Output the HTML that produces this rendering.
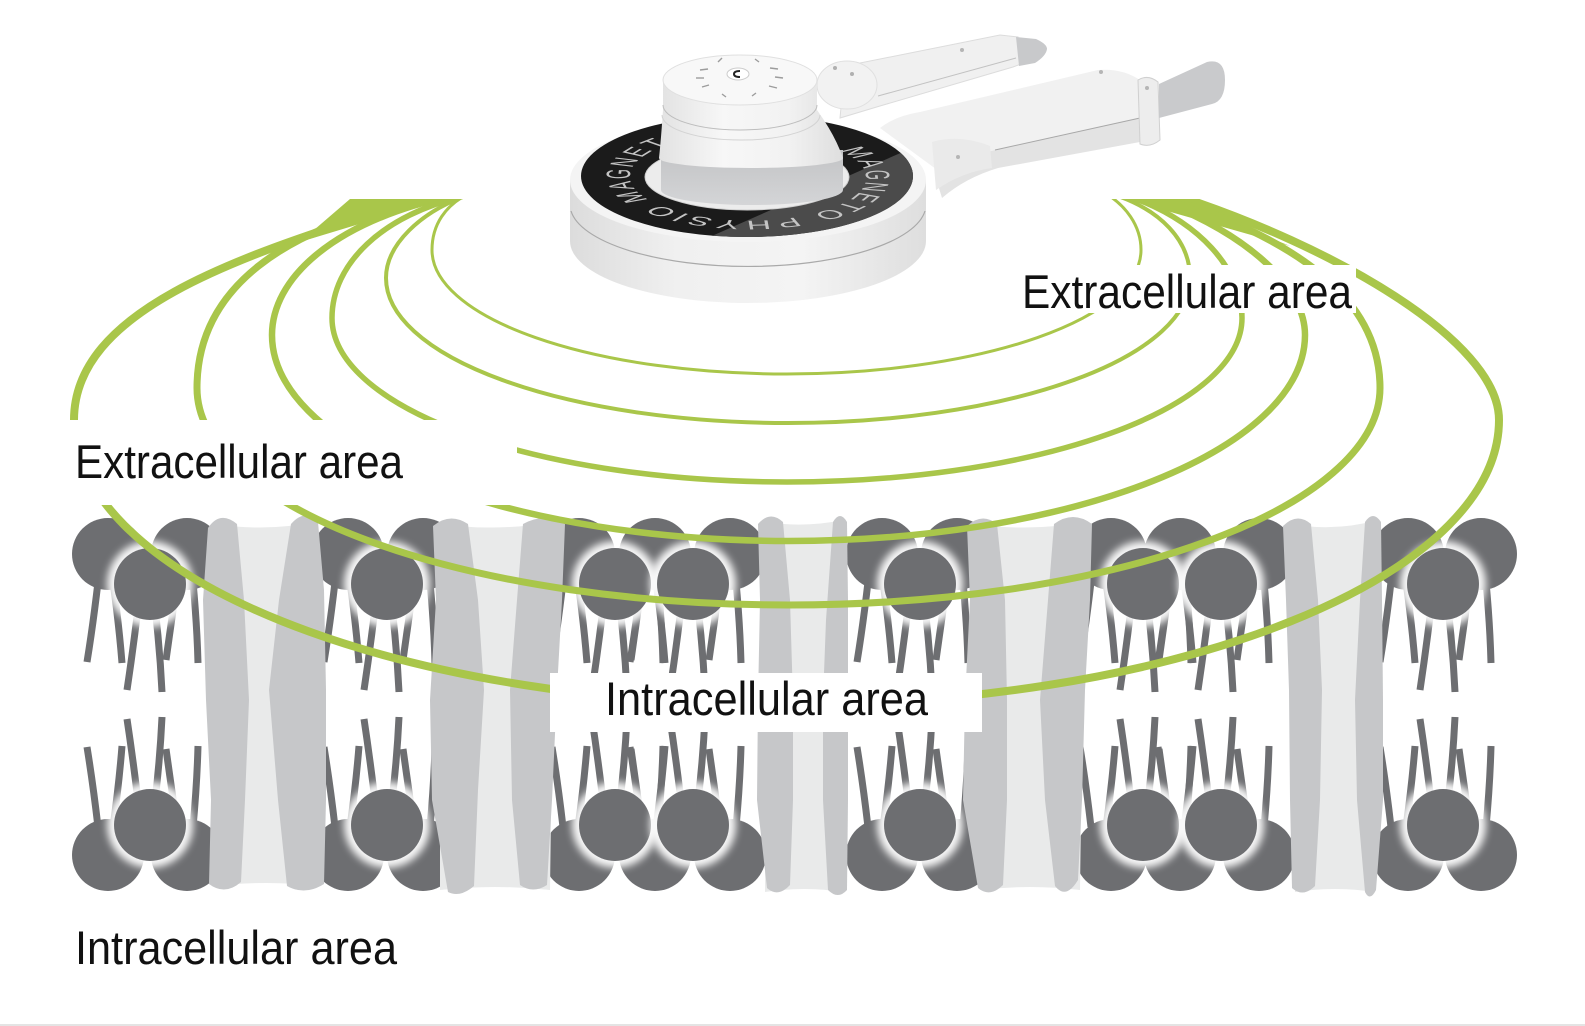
<!DOCTYPE html>
<html>
<head>
<meta charset="utf-8">
<style>
html,body{margin:0;padding:0;background:#ffffff;}
svg{display:block;}
</style>
</head>
<body>
<svg width="1585" height="1026" viewBox="0 0 1585 1026" xmlns="http://www.w3.org/2000/svg" xmlns:xlink="http://www.w3.org/1999/xlink">
<defs>
  <filter id="blur" x="-50%" y="-50%" width="200%" height="200%"><feGaussianBlur stdDeviation="4"/></filter>
  <g id="tails" stroke="#6d6e71" stroke-width="7" fill="none">
    <path d="M-52 582 Q-57 625 -63 662"/>
    <path d="M-37 582 Q-31 625 -28 663"/>
    <path d="M-12 608 Q-17 650 -23 690"/>
    <path d="M5 608 Q10 650 12 692"/>
    <path d="M27 582 Q21 625 16 660"/>
    <path d="M43 582 Q47 625 48 663"/>
  </g>
  <g id="front">
    <circle cx="0" cy="584" r="43" fill="#ffffff" filter="url(#blur)" opacity="0.95"/>
    <circle cx="0" cy="584" r="36" fill="#6d6e71"/>
  </g>
  <g id="layer">
    <g fill="#6d6e71">
      <circle cx="108" cy="554" r="36"/><circle cx="187" cy="554" r="36"/>
      <circle cx="348" cy="554" r="36"/><circle cx="423" cy="554" r="36"/>
      <circle cx="579" cy="554" r="36"/><circle cx="655" cy="554" r="36"/><circle cx="730" cy="554" r="36"/>
      <circle cx="882" cy="554" r="36"/><circle cx="957" cy="554" r="36"/>
      <circle cx="1111" cy="554" r="36"/><circle cx="1180" cy="554" r="36"/><circle cx="1259" cy="554" r="36"/>
      <circle cx="1408" cy="554" r="36"/><circle cx="1481" cy="554" r="36"/>
    </g>
    <use href="#tails" x="150"/><use href="#tails" x="387"/><use href="#tails" x="615"/><use href="#tails" x="693"/>
    <use href="#tails" x="920"/><use href="#tails" x="1143"/><use href="#tails" x="1221"/><use href="#tails" x="1443"/>
    <use href="#front" x="150"/><use href="#front" x="387"/><use href="#front" x="615"/><use href="#front" x="693"/>
    <use href="#front" x="920"/><use href="#front" x="1143"/><use href="#front" x="1221"/><use href="#front" x="1443"/>
  </g>
  <clipPath id="arcClip"><rect x="0" y="199" width="1585" height="827"/></clipPath>
  <clipPath id="ringClip" clip-rule="evenodd">
    <path clip-rule="evenodd" d="M581 176 A166 61 0 1 0 913 176 A166 61 0 1 0 581 176 Z M645 177 A102 33 0 1 1 849 177 A102 33 0 1 1 645 177 Z"/>
  </clipPath>
  <linearGradient id="gBase" x1="0" y1="0" x2="1" y2="0">
    <stop offset="0" stop-color="#dcdcdc"/><stop offset="0.3" stop-color="#f0f0f0"/><stop offset="0.65" stop-color="#f4f4f4"/><stop offset="1" stop-color="#dedede"/>
  </linearGradient>
  <linearGradient id="gCyl" x1="0" y1="0" x2="1" y2="0">
    <stop offset="0" stop-color="#e2e2e2"/><stop offset="0.35" stop-color="#f7f7f7"/><stop offset="0.7" stop-color="#f2f2f2"/><stop offset="1" stop-color="#dedede"/>
  </linearGradient>
  <linearGradient id="gFlare" x1="0" y1="0" x2="0" y2="1">
    <stop offset="0" stop-color="#c2c3c5"/><stop offset="1" stop-color="#d4d5d7"/>
  </linearGradient>
</defs>

<rect x="0" y="0" width="1585" height="1026" fill="#ffffff"/>

<!-- membrane: lipid layers -->
<use href="#layer"/>
<use href="#layer" transform="matrix(1 0 0 -1 0 1409)"/>

<!-- proteins -->
<g>
  <path d="M215 524 Q265 532 315 522 L320 886 Q265 880 215 886 Z" fill="#e9eaea"/>
  <path d="M208 528 Q220 510 237 524 L244 600 L249 700 L245 800 L241 882 Q225 896 209 884 L211 800 L206 700 L203 600 Z" fill="#c6c7c9"/>
  <path d="M291 524 Q305 508 318 522 L324 590 L326 690 L326 800 L324 884 Q305 896 287 886 L278 800 L269 690 L279 600 Z" fill="#c6c7c9"/>

  <path d="M440 524 Q495 532 555 522 L550 890 Q495 884 440 890 Z" fill="#e9eaea"/>
  <path d="M433 526 Q450 512 468 524 L478 600 L484 690 L478 790 L474 886 Q460 898 448 892 L432 800 L430 700 L436 600 Z" fill="#c6c7c9"/>
  <path d="M523 524 Q545 512 565 524 L562 600 L557 690 L552 800 L547 885 Q533 894 520 885 L512 800 L510 690 L517 600 Z" fill="#c6c7c9"/>

  <path d="M765 522 Q805 528 843 520 L843 892 Q805 886 765 892 Z" fill="#e9eaea"/>
  <path d="M758 524 Q770 510 783 522 L790 600 L793 700 L793 800 L790 885 Q778 898 767 888 L757 800 L758 700 L760 600 Z" fill="#c6c7c9"/>
  <path d="M833 522 Q840 510 847 522 L848 600 L848 700 L848 800 L847 890 Q838 900 828 890 L823 800 L823 700 L826 620 Z" fill="#c6c7c9"/>

  <path d="M975 524 Q1030 532 1085 522 L1080 890 Q1030 884 980 890 Z" fill="#e9eaea"/>
  <path d="M967 526 Q982 512 997 524 L1005 600 L1007 700 L1007 800 L1003 885 Q990 898 978 888 L963 800 L965 700 L970 600 Z" fill="#c6c7c9"/>
  <path d="M1054 524 Q1073 510 1092 524 L1090 600 L1085 690 L1082 800 L1078 880 Q1066 900 1055 886 L1045 800 L1040 700 L1048 600 Z" fill="#c6c7c9"/>

  <path d="M1290 524 Q1335 532 1378 520 L1375 892 Q1335 886 1295 892 Z" fill="#e9eaea"/>
  <path d="M1283 526 Q1297 512 1311 524 L1318 600 L1322 690 L1320 800 L1315 886 Q1303 898 1292 888 L1290 800 L1289 690 L1286 600 Z" fill="#c6c7c9"/>
  <path d="M1365 522 Q1373 510 1381 522 L1382 600 L1383 700 L1383 800 L1376 890 Q1370 902 1365 892 L1357 800 L1355 700 L1360 600 Z" fill="#c6c7c9"/>
</g>

<!-- green field lines -->
<g clip-path="url(#arcClip)" fill="none" stroke="#a9c64a" stroke-linecap="butt">
  <path stroke-width="8" d="M430 195 C270 248 74 300 74 420 A712.5 285 0 0 0 786.5 705 A712.5 285 0 0 0 1499 420 C1499 340 1330 245 1175 195"/>
  <path stroke-width="7" d="M440 195 C280 225 197 290 197 388 A591.5 217 0 0 0 788.5 605 A591.5 217 0 0 0 1380 388 C1380 300 1300 240 1160 195"/>
  <path stroke-width="6.5" d="M455 195 C330 222 272 280 272 335 A516.5 206 0 0 0 788.5 541 A516.5 206 0 0 0 1305 335 C1305 290 1255 235 1145 195"/>
  <path stroke-width="5.5" d="M468 195 C380 215 332 265 332 318 A455 164 0 0 0 787 482 A455 164 0 0 0 1242 318 C1242 270 1200 220 1125 195"/>
  <path stroke-width="4" d="M468 195 C420 212 386 245 386 278 A402 145 0 0 0 788 423 A402 145 0 0 0 1190 278 C1190 240 1160 210 1115 195"/>
  <path stroke-width="3" d="M470 193 C445 205 432 225 432 250 A354.5 124 0 0 0 786.5 374 A354.5 124 0 0 0 1141 250 C1141 225 1125 205 1105 193"/>
  <path d="M350 199 L442 199 L300 242 Z" fill="#a9c64a" stroke="none"/>
  <path d="M1125 199 L1176 199 L1290 246 Z" fill="#a9c64a" stroke="none"/>
</g>

<!-- label boxes -->
<rect x="40" y="420" width="477" height="85" fill="#ffffff"/>
<rect x="1012" y="265" width="344" height="48" fill="#ffffff"/>
<rect x="550" y="673" width="432" height="59" fill="#ffffff"/>

<g font-family="Liberation Sans, Arial, sans-serif" font-size="47" fill="#111111">
  <text x="75" y="478" textLength="328" lengthAdjust="spacingAndGlyphs">Extracellular area</text>
  <text x="1022" y="308" textLength="330" lengthAdjust="spacingAndGlyphs">Extracellular area</text>
  <text x="605" y="715" textLength="323" lengthAdjust="spacingAndGlyphs">Intracellular area</text>
  <text x="75" y="964" textLength="322" lengthAdjust="spacingAndGlyphs">Intracellular area</text>
</g>

<!-- bottom border line -->
<rect x="0" y="1024" width="1585" height="2" fill="#e4e4e4"/>

<!-- device -->
<g>
  <!-- upper arm -->
  <path d="M845 66 L1000 35 L1018 37 L1021 64 L1013 67 L880 106 L840 118 Z" fill="#f0f0f0" stroke="#dcdcdc" stroke-width="1"/>
  <path d="M878 96 L1016 58" stroke="#c2c2c2" stroke-width="1" fill="none"/>
  <path d="M1016 37 L1036 39 Q1047 44 1047 49 Q1046 56 1035 63 L1019 66 Z" fill="#c8c9cb"/>
  <circle cx="962" cy="50" r="2" fill="#b5b5b5"/>
  <!-- lower arm -->
  <path d="M880 128 Q895 116 920 112 L1098 70 Q1122 68 1140 80 L1140 118 L995 150 Q962 158 940 172 Z" fill="#f1f1f1"/>
  <path d="M995 150 L1140 118 L1140 142 L998 168 Q965 178 942 198 L935 175 Q962 158 995 150 Z" fill="#e3e3e3"/>
  <path d="M995 150 L1140 118" stroke="#a8a8a8" stroke-width="1" fill="none"/>
  <path d="M932 142 Q960 134 990 146 L992 168 Q962 172 936 190 Z" fill="#eaeaea"/>
  <circle cx="958" cy="157" r="2" fill="#b5b5b5"/>
  <circle cx="1101" cy="72" r="2" fill="#b5b5b5"/>
  <path d="M1138 80 Q1148 74 1158 82 L1160 140 Q1150 148 1140 144 Z" fill="#ededed" stroke="#d0d0d0" stroke-width="1"/>
  <circle cx="1147" cy="88" r="2" fill="#b5b5b5"/>
  <path d="M1159 84 L1207 62 Q1225 58 1225 80 Q1225 101 1212 104 L1159 118 Z" fill="#c9cacc"/>
  <!-- base disc -->
  <path d="M570 180 L570 241 A178 62 0 0 0 926 241 L926 180 Z" fill="url(#gBase)"/>
  <path d="M571 211 A178 62 0 0 0 925 211" stroke="#a9a9a9" stroke-width="1.2" fill="none"/>
  <ellipse cx="748" cy="180" rx="178" ry="62" fill="#f4f4f4"/>
  <!-- black ring -->
  <ellipse cx="747" cy="176" rx="166" ry="61" fill="#1b1b1b"/>
  <g clip-path="url(#ringClip)">
    <path d="M680 250 L930 140 L930 250 Z" fill="#4b4b4b"/>
  </g>
  <g transform="translate(748,177) scale(1,0.37)">
    <path id="rp" d="M82 -82 A116 116 0 1 1 -82 82 A116 116 0 1 1 82 -82" fill="none"/>
    <text font-family="Liberation Sans, Arial, sans-serif" font-size="34" fill="#c4c4c4"><textPath href="#rp" startOffset="14" textLength="579" lengthAdjust="spacing">MAGNETO PHYSIO MAGNETO</textPath></text>
  </g>
  <ellipse cx="747" cy="177" rx="102" ry="33" fill="#ececec" stroke="#cfcfcf" stroke-width="1"/>
  <!-- gray flare -->
  <path d="M661 150 L661 190 A91 15 0 0 0 843 190 L843 150 Z" fill="url(#gFlare)"/>
  <!-- boss -->
  <ellipse cx="847" cy="85" rx="30" ry="24" fill="#f2f2f2" stroke="#e0e0e0" stroke-width="1"/>
  <circle cx="835" cy="68" r="2" fill="#b0b0b0"/>
  <circle cx="852" cy="74" r="2" fill="#b0b0b0"/>
  <!-- cylinder body -->
  <path d="M663 80 L663 110 Q661 140 659 158 A92 10 0 0 0 843 158 Q835 135 817 110 L817 80 Z" fill="url(#gCyl)"/>
  <path d="M663 105 A77 25 0 0 0 817 105" stroke="#bdbdbd" stroke-width="1" fill="none"/>
  <path d="M662 115 A79 25 0 0 0 820 115" stroke="#d3d3d3" stroke-width="1" fill="none"/>
  <ellipse cx="740" cy="80" rx="77" ry="25" fill="#f8f8f8" stroke="#e0e0e0" stroke-width="1"/>
  <!-- top face details -->
  <g stroke="#9c9c9c" stroke-width="1.4" fill="none">
    <path d="M700 70 L708 69"/><path d="M696 78 L704 78"/><path d="M702 87 L709 85"/>
    <path d="M770 68 L778 69"/><path d="M775 77 L783 78"/><path d="M769 86 L777 88"/>
    <path d="M718 62 L722 58"/><path d="M755 59 L759 62"/><path d="M722 94 L726 97"/><path d="M752 96 L756 93"/>
  </g>
  <ellipse cx="738" cy="74" rx="11" ry="6" fill="#ffffff" stroke="#cccccc" stroke-width="1"/>
  <path d="M740 71 Q734 71 734 74 Q734 77 740 77" stroke="#222" stroke-width="2" fill="none"/>
</g>
</svg>
</body>
</html>
